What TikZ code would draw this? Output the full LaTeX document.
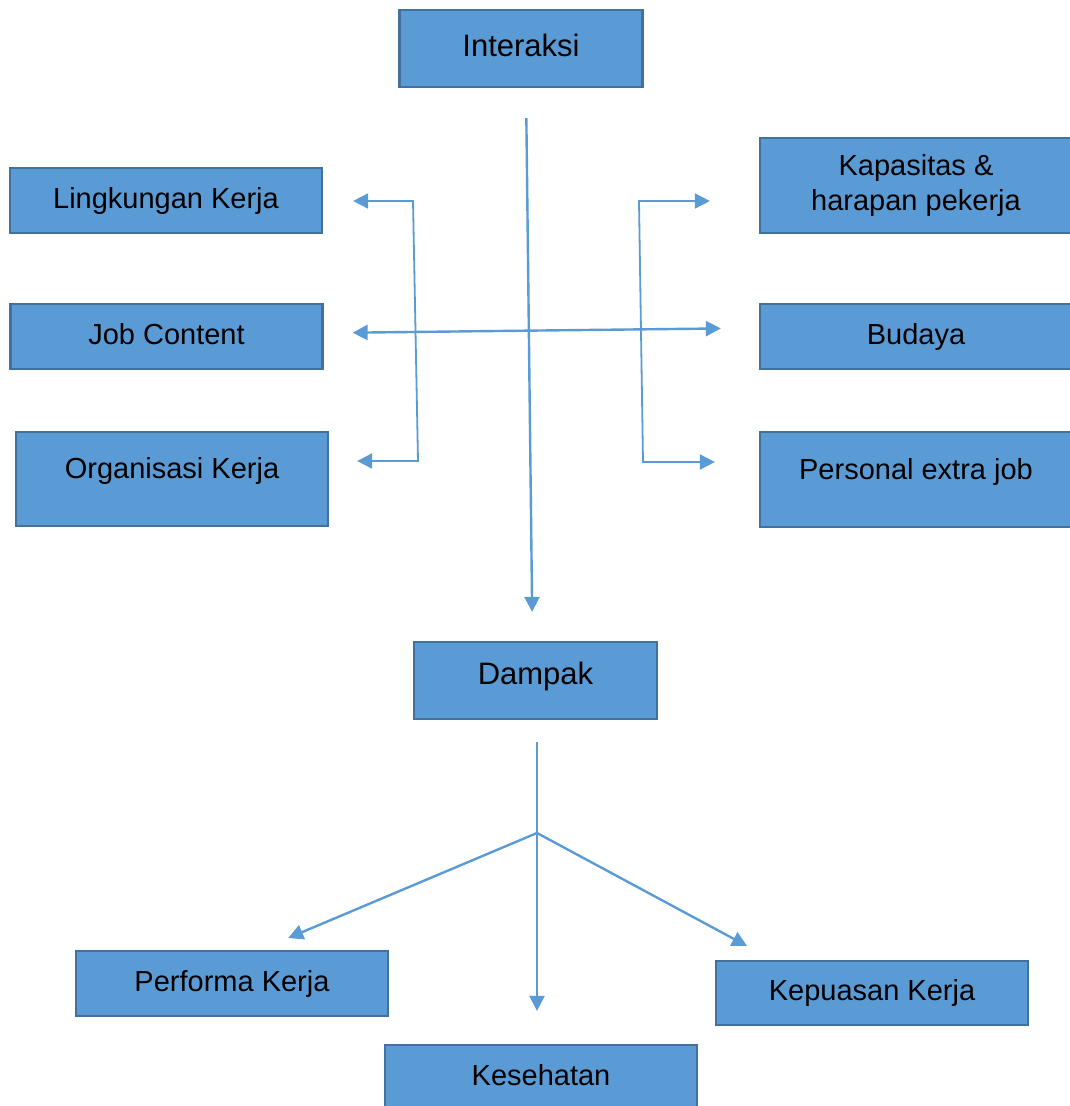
\documentclass[tikz,border=0pt]{standalone}
\usepackage{fontspec}
\setmainfont{Liberation Sans}
\usetikzlibrary{arrows.meta}
\definecolor{boxfill}{HTML}{5B9BD5}
\definecolor{boxline}{HTML}{41719C}
\begin{document}
\begin{tikzpicture}[x=1pt,y=-1pt,
	box/.style={draw=boxline,fill=boxfill,line width=2.2pt,inner sep=0pt,
		minimum width=312pt,minimum height=65pt,text height=21pt,text depth=6pt,
		font=\fontsize{29}{35}\selectfont},
	bigbox/.style={box,minimum width=243pt,minimum height=77pt,font=\fontsize{31}{37}\selectfont},
	link/.style={draw=boxfill,line width=2.4pt},
	thin/.style={draw=boxfill,line width=1.8pt},
	tip/.style={-{Triangle[length=15pt,width=15pt]}},
	both/.style={{Triangle[length=15pt,width=15pt]}-{Triangle[length=15pt,width=15pt]}}]
			\useasboundingbox (0,0) rectangle (1070,1106);
			\clip (0,0) rectangle (1070,1106);
			\node [bigbox] (interaksi) at (521,48.5) {Interaksi};
			\node [box] (lingkungan) at (166,200.5) {Lingkungan Kerja};
			\node [box] (jobcontent) at (166.5,336.5) {Job Content};
			\node [box,minimum height=94pt,text depth=22pt] (organisasi) at (172,479) {Organisasi Kerja};
			\node [box,minimum height=95pt,text height=,text depth=,align=center] (kapasitas) at (916,185.5) {Kapasitas \&\\harapan pekerja};
			\node [box] (budaya) at (916,336.5) {Budaya};
			\node [box,minimum height=95pt,text depth=22pt] (personal) at (916,479.5) {Personal extra job};
			\node [bigbox,text depth=14pt] (dampak) at (535.5,680.5) {Dampak};
			\node [box] (performa) at (232,983.5) {Performa Kerja};
			\node [box,minimum height=64pt] (kepuasan) at (872,993) {Kepuasan Kerja};
			\node [box] (kesehatan) at (541,1077.5) {Kesehatan};
			\coordinate (lt) at (413,201);
			\coordinate (lb) at (418,461);
			\coordinate (rt) at (639,201);
			\coordinate (rb) at (643,462);
			\coordinate (split) at (537,833);
			\draw [link,tip,shorten <=30pt,shorten >=29pt] ([xshift=5pt]interaksi.south) -- ([xshift=-3pt]dampak.north);
			\draw [thin,both,shorten <=30pt,shorten >=28pt] (lingkungan.east |- lt) -- (lt) -- (lb) -- (organisasi.east |- lb);
			\draw [thin,both,shorten <=49pt,shorten >=44pt] (kapasitas.west |- rt) -- (rt) -- (rb) -- (personal.west |- rb);
			\draw [link,both,shorten <=29pt,shorten >=38pt] ([yshift=3.5pt]jobcontent.east) -- ([yshift=8.5pt]budaya.west);
			\draw [link,tip,shorten <=22pt,shorten >=33pt] ([xshift=1.5pt]dampak.south) -- ([xshift=-4pt]kesehatan.north);
			\draw [link,tip,shorten >=30.6pt] (split) -- ([xshift=28pt]performa.north);
			\draw [link,tip,shorten >=29.4pt] (split) -- ([xshift=58pt]kepuasan.north west);
\end{tikzpicture}
\end{document}
